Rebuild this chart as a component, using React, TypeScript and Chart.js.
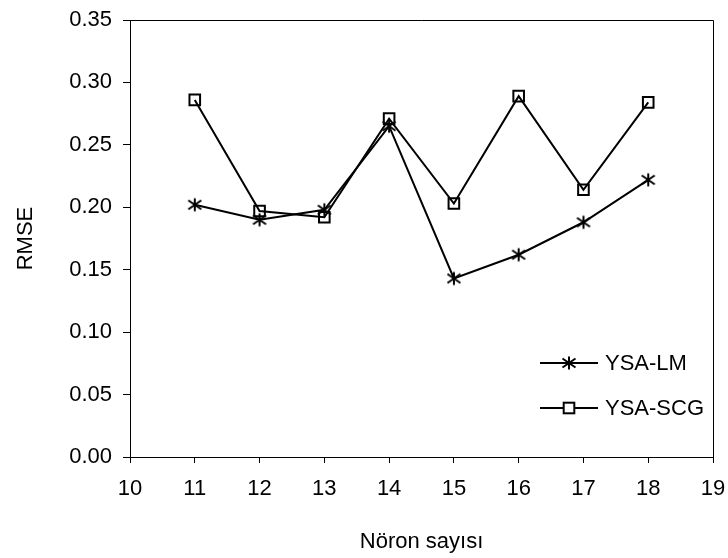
import React, { useEffect, useRef } from "react";
import { Chart, registerables } from "chart.js";

Chart.register(...registerables);

const neurons = [11, 12, 13, 14, 15, 16, 17, 18];
const lmValues = [0.202, 0.19, 0.198, 0.265, 0.143, 0.162, 0.188, 0.222];
const scgValues = [0.286, 0.197, 0.192, 0.271, 0.203, 0.289, 0.214, 0.284];
const seriesNames = ["YSA-LM", "YSA-SCG"];
const xTitle = "Nöron sayısı";
const yTitle = "RMSE";

const FONT_FAMILY = '"Liberation Sans", Arial, sans-serif';

function makeAsterisk(): HTMLCanvasElement {
  const c = document.createElement("canvas");
  c.width = 16;
  c.height = 16;
  const g = c.getContext("2d")!;
  g.strokeStyle = "#000";
  g.lineWidth = 2;
  g.beginPath();
  g.moveTo(8, 1.5);
  g.lineTo(8, 14.5);
  g.moveTo(1.5, 3.5);
  g.lineTo(14.5, 12.5);
  g.moveTo(14.5, 3.5);
  g.lineTo(1.5, 12.5);
  g.stroke();
  return c;
}

const framePlugin = {
  id: "frame",
  afterDraw(chart: any) {
    const { ctx, chartArea } = chart;
    ctx.save();
    ctx.strokeStyle = "#000";
    ctx.lineWidth = 1;
    ctx.beginPath();
    ctx.moveTo(chartArea.left, chartArea.top + 0.5);
    ctx.lineTo(chartArea.right + 0.5, chartArea.top + 0.5);
    ctx.lineTo(chartArea.right + 0.5, chartArea.bottom);
    ctx.stroke();
    ctx.restore();
  },
};

const legendPlugin = {
  id: "insideLegend",
  afterDraw(chart: any) {
    const { ctx, chartArea } = chart;
    ctx.save();
    chart.data.datasets.forEach((ds: any, i: number) => {
      const y = chartArea.bottom - 94 + i * 45;
      const x0 = chartArea.right - 173;
      const x1 = x0 + 58;
      ctx.strokeStyle = "#000";
      ctx.lineWidth = 2;
      ctx.beginPath();
      ctx.moveTo(x0, y);
      ctx.lineTo(x1, y);
      ctx.stroke();
      const xm = (x0 + x1) / 2;
      const ps = ds.pointStyle;
      if (ps instanceof HTMLCanvasElement) {
        ctx.drawImage(ps, xm - ps.width / 2, y - ps.height / 2);
      } else {
        const s = ds.pointRadius * Math.SQRT1_2;
        ctx.fillStyle = "#fff";
        ctx.fillRect(xm - s, y - s, 2 * s, 2 * s);
        ctx.lineWidth = ds.pointBorderWidth;
        ctx.strokeRect(xm - s, y - s, 2 * s, 2 * s);
      }
      ctx.fillStyle = "#000";
      ctx.font = `22px ${FONT_FAMILY}`;
      ctx.textAlign = "left";
      ctx.textBaseline = "middle";
      ctx.fillText(ds.label, x1 + 7, y + 1);
    });
    ctx.restore();
  },
};

export default function App() {
  const ref = useRef<HTMLCanvasElement | null>(null);

  useEffect(() => {
    if (!ref.current) return;
    const star = makeAsterisk();
    const chart = new Chart(ref.current, {
      type: "line",
      data: {
        datasets: [
          {
            label: seriesNames[0],
            data: neurons.map((n, i) => ({ x: n, y: lmValues[i] })),
            borderColor: "#000",
            borderWidth: 2,
            pointStyle: star as any,
            pointRadius: 7,
            tension: 0,
          },
          {
            label: seriesNames[1],
            data: neurons.map((n, i) => ({ x: n, y: scgValues[i] })),
            borderColor: "#000",
            borderWidth: 2,
            pointStyle: "rect",
            pointRadius: 7.5,
            pointBorderWidth: 2,
            pointBorderColor: "#000",
            pointBackgroundColor: "rgba(0,0,0,0)",
            tension: 0,
          },
        ],
      },
      options: {
        responsive: false,
        animation: false,
        events: [],
        layout: { padding: { left: 0, top: 20, right: 15, bottom: 0 } },
        plugins: { legend: { display: false }, tooltip: { enabled: false } },
        scales: {
          x: {
            type: "linear",
            min: 10,
            max: 19,
            afterFit(scale: any) {
              scale.height = 101;
              scale.paddingLeft = 0;
              scale.paddingRight = 0;
            },
            ticks: {
              stepSize: 1,
              color: "#000",
              padding: 13,
              font: { family: FONT_FAMILY, size: 22 },
            },
            grid: {
              display: true,
              drawOnChartArea: false,
              drawTicks: true,
              tickLength: 6,
              color: "#000",
            },
            border: { display: true, color: "#000", width: 1 },
            title: {
              display: true,
              text: xTitle,
              color: "#000",
              padding: { top: 4, bottom: 3 },
              font: { family: FONT_FAMILY, size: 22 },
            },
          },
          y: {
            type: "linear",
            min: 0,
            max: 0.35,
            afterFit(scale: any) {
              scale.width = 130;
              scale.paddingTop = 0;
              scale.paddingBottom = 0;
            },
            ticks: {
              stepSize: 0.05,
              color: "#000",
              padding: 11,
              font: { family: FONT_FAMILY, size: 22 },
              callback: (v: any) => Number(v).toFixed(2),
            },
            grid: {
              display: true,
              drawOnChartArea: false,
              drawTicks: true,
              tickLength: 7,
              color: "#000",
            },
            border: { display: true, color: "#000", width: 1 },
            title: {
              display: true,
              text: yTitle,
              color: "#000",
              padding: { top: 13, bottom: 4 },
              font: { family: FONT_FAMILY, size: 22 },
            },
          },
        },
      },
      plugins: [framePlugin, legendPlugin],
    });
    return () => chart.destroy();
  }, []);

  return (
    <div style={{ position: "absolute", left: 0, top: 0, width: 728, height: 558, background: "#fff" }}>
      <canvas ref={ref} width={728} height={558} />
    </div>
  );
}
